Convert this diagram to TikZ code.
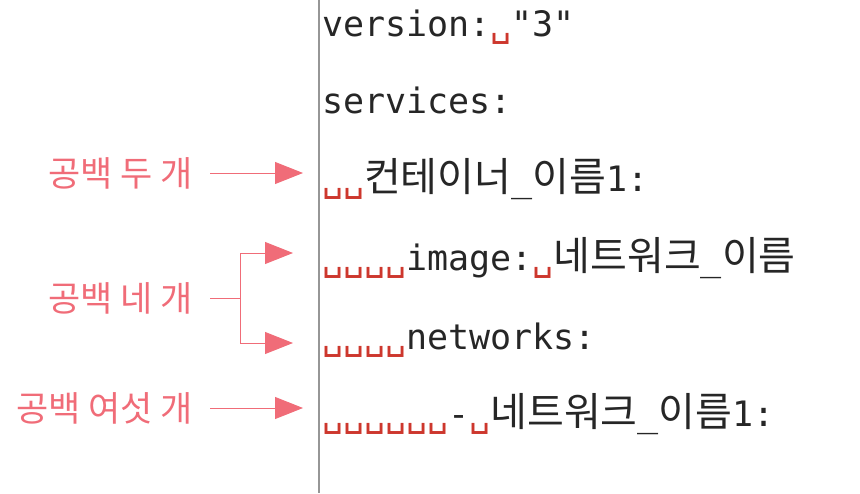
\documentclass[tikz,border=0pt]{standalone}
\usepackage{fontspec}
\setmonofont{DejaVu Sans Mono}
\newfontfamily\krfont{Noto Sans CJK KR}
\usetikzlibrary{arrows.meta}
\definecolor{notered}{RGB}{240,108,120}
\definecolor{spacered}{RGB}{205,55,45}
\definecolor{rulegray}{RGB}{150,150,150}
\newcommand{\vsp}{\textcolor{spacered}{␣}}
\newcommand{\kr}[1]{{\krfont\fontsize{40}{40}\selectfont #1}}

\begin{document}
\begin{tikzpicture}[x=1pt,y=-1pt]
    \tikzstyle{every node}=[inner sep=0pt,outer sep=0pt];
    \tikzstyle{codeline}=[anchor=base west,font=\ttfamily\fontsize{35}{35}\selectfont,text=black!85];
    \tikzstyle{note}=[anchor=east,font=\krfont\fontsize{35}{35}\selectfont,text=notered];
    \tikzstyle{pointer}=[draw=notered,line width=0.9pt,-{Triangle[length=28pt,width=22pt,fill=notered]}];
    \useasboundingbox (0,0) rectangle (860,493);
    \draw[rulegray,line width=2pt] (319,0) -- (319,493);

    \node at (322, 36)  (c1) [codeline] {version:\vsp"3"};
    \node at (322, 113) (c2) [codeline] {services:};
    \node at (322, 191) (c3) [codeline] {\vsp\vsp\kr{컨테이너}\_\kr{이름}1:};
    \node at (322, 270) (c4) [codeline] {\vsp\vsp\vsp\vsp image:\vsp\kr{네트워크}\_\kr{이름}};
    \node at (322, 349) (c5) [codeline] {\vsp\vsp\vsp\vsp networks:};
    \node at (322, 426) (c6) [codeline] {\vsp\vsp\vsp\vsp\vsp\vsp-\vsp\kr{네트워크}\_\kr{이름}1:};

    \node at (193, 173) (two)  [note] {공백 두 개};
    \node at (193, 298) (four) [note] {공백 네 개};
    \node at (193, 408) (six)  [note] {공백 여섯 개};

    \coordinate (fork) at (240, 298);
    \coordinate (to3) at (303, 173);
    \coordinate (to4) at (293, 253);
    \coordinate (to5) at (293, 343);
    \coordinate (to6) at (303, 408);
    \draw[pointer] ([xshift=17]two.east) -- (to3);
    \draw[notered,line width=0.9pt] ([xshift=17]four.east) -- (fork);
    \draw[pointer] (fork) |- (to4);
    \draw[pointer] (fork) |- (to5);
    \draw[pointer] ([xshift=17]six.east) -- (to6);
\end{tikzpicture}
\end{document}
